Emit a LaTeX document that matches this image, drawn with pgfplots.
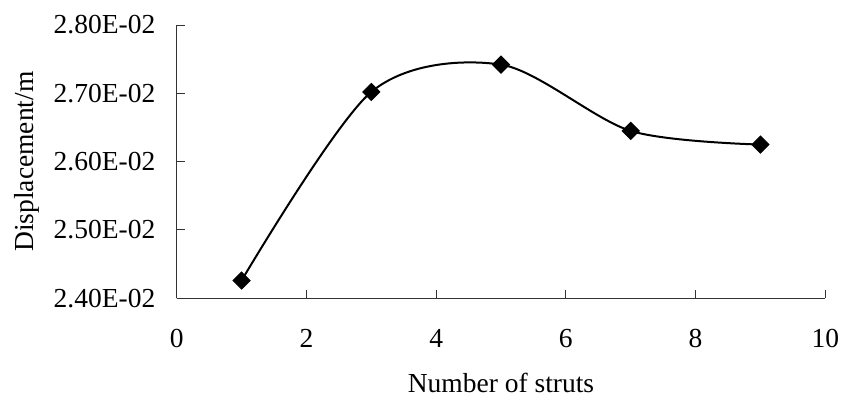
\documentclass[border=0pt]{standalone}
\usepackage{fontspec}
\setmainfont{Liberation Serif}
\usepackage{pgfplots}
\pgfplotsset{compat=1.18}
\begin{document}
\fontsize{27.5}{32}\selectfont
\begin{tikzpicture}
\begin{axis}[
  scale only axis,
  width=648.6pt, height=273.3pt,
  xmin=0, xmax=10, ymin=0.024, ymax=0.028,
  scaled y ticks=false,
  axis x line*=bottom, axis y line*=left,
  axis line style={black!80, line width=1pt},
  tick align=inside,
  major tick length=8pt,
  every tick/.style={black!80, line width=1pt},
  xtick={0,2,4,6,8,10},
  ytick={0.024,0.025,0.026,0.027,0.028},
  yticklabels={2.40E-02,2.50E-02,2.60E-02,2.70E-02,2.80E-02},
  /pgf/number format/assume math mode=true,
  ticklabel style={font=\fontsize{27.5}{32}\selectfont},
  xticklabel style={yshift=-22pt},
  yticklabel style={xshift=-12pt},
  xlabel={Number of struts},
  ylabel={Displacement/m},
  label style={font=\fontsize{27.5}{32}\selectfont},
  xlabel style={at={(axis description cs:0.5,0)}, anchor=base, yshift=-93.7pt},
  ylabel style={at={(axis description cs:0,0.5)}, anchor=base, yshift=143.4pt},
  clip=false,
]
\addplot[black, line width=2pt, smooth, tension=0.5,
  mark=square*, mark size=6pt, mark options={rotate=45, solid, fill=black, line width=1pt}]
  coordinates {(1,0.02426) (3,0.02702) (5,0.02742) (7,0.02645) (9,0.02625)};
\end{axis}
\pgfresetboundingbox
\path[use as bounding box] (-176.7pt,-103.7pt) rectangle (664.3pt,298.3pt);
\end{tikzpicture}
\end{document}
